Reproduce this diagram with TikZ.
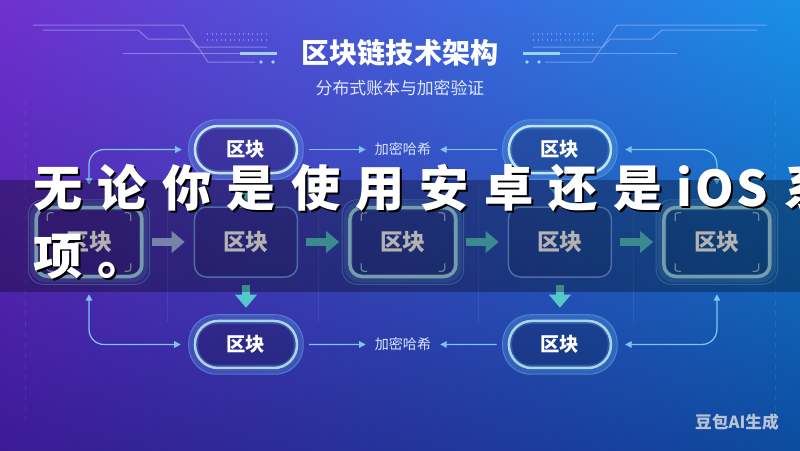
\documentclass[tikz,border=0pt]{standalone}
\usepackage{fontspec}
\setmainfont{Noto Sans CJK SC}
\newfontfamily\brush[LetterSpace=31]{Noto Sans CJK SC}
\newfontfamily\brushlatin[LetterSpace=6]{Noto Sans CJK SC}
\usetikzlibrary{positioning,calc,arrows.meta,shadings}
\definecolor{bgtl}{HTML}{7030D0}
\definecolor{bgtr}{HTML}{1890E8}
\definecolor{bgbl}{HTML}{3C1A96}
\definecolor{bgbr}{HTML}{0C4C9E}
\definecolor{edgelight}{HTML}{BCEEF6}
\definecolor{edgeblue}{HTML}{6E9CEC}
\definecolor{pilledge}{HTML}{DDF4FF}
\definecolor{pillgray}{HTML}{BFE0E4}
\definecolor{haloblue}{HTML}{6AB8F0}
\definecolor{linkblue}{HTML}{7CC6F2}
\definecolor{flowteal}{HTML}{55C8CC}
\definecolor{flowgray}{HTML}{AABEF0}
\definecolor{labeltext}{HTML}{D6E4FF}
\definecolor{subtext}{HTML}{E2E8FF}
\definecolor{markgray}{HTML}{B8C2D6}
\definecolor{tracecol}{HTML}{B4C0FF}
\definecolor{tracebright}{HTML}{9CD2FF}

\begin{document}
\begin{tikzpicture}[
		x=0.02cm, y=-0.02cm,
		node distance=1cm,
		>={Triangle[length=0.13cm,width=0.13cm]},
		bigbox/.style={draw=edgelight, line width=0.07cm, rounded corners=0.24cm, fill=black, fill opacity=0.12, text opacity=1, minimum width=2.12cm, minimum height=1.38cm, text=white, font=\fontsize{13pt}{15pt}\selectfont\bfseries},
		thinbox/.style={draw=edgeblue, line width=0.03cm, rounded corners=0.24cm, fill=black, fill opacity=0.1, text opacity=1, minimum width=2.06cm, minimum height=1.4cm, text=white, font=\fontsize{13pt}{15pt}\selectfont\bfseries},
		pill/.style={draw=pilledge, line width=0.05cm, rounded corners=0.46cm, fill=black, fill opacity=0.18, text opacity=1, minimum width=2.04cm, minimum height=0.94cm, text=white, font=\fontsize{11pt}{13pt}\selectfont\bfseries},
		lowpill/.style={pill, draw=pillgray},
		hashlbl/.style={text=labeltext, font=\fontsize{8pt}{10pt}\selectfont, inner sep=5pt},
		link/.style={draw=linkblue, line width=0.025cm},
		flow/.style={draw=flowteal, line width=0.16cm, -{Triangle[length=0.26cm,width=0.42cm]}, shorten <=0.16cm, shorten >=0.18cm},
		halo/.style={draw=haloblue, line width=0.02cm, draw opacity=0.55},
		glow/.style={draw=haloblue, line width=0.18cm, draw opacity=0.25},
		tick/.style={draw=edgelight, line width=0.025cm, rounded corners=0.05cm, draw opacity=0.7},
		trace/.style={draw=tracecol, line width=0.02cm, draw opacity=0.5},
		gridline/.style={draw=white, line width=0.02cm, draw opacity=0.08},
		caption/.style={anchor=west, inner sep=0, font=\brush\fontsize{28pt}{30pt}\selectfont\bfseries}
	]
		\useasboundingbox (0,0) rectangle (800,450);
		\clip (0,0) rectangle (800,450);
		\shade[upper left=bgtl, upper right=bgtr, lower left=bgbl, lower right=bgbr] (0,0) rectangle (800,450);

		\foreach \s/\o in {1/0,-1/800}{
			\draw[trace] ({\o+(\s)*33},25) -- ({\o+(\s)*183},25) -- ({\o+(\s)*208},62) -- ({\o+(\s)*255},62);
			\draw[trace] ({\o+(\s)*43},30) -- ({\o+(\s)*138},30) -- ({\o+(\s)*148},39) -- ({\o+(\s)*190},39) -- ({\o+(\s)*197},47) -- ({\o+(\s)*267},47);
			\draw[trace] ({\o+(\s)*123},53) -- ({\o+(\s)*240},53);
			\draw[tracebright, line width=0.06cm] ({\o+(\s)*240},53) -- ({\o+(\s)*277},53);
			\draw[trace, dotted, line width=0.04cm] ({\o+(\s)*207},34) -- ({\o+(\s)*270},34);
			\draw[trace, dotted, line width=0.04cm] ({\o+(\s)*207},40) -- ({\o+(\s)*270},40);
			\fill[tracebright] ({\o+(\s)*261},62) circle (1.8);
			\fill[tracebright] ({\o+(\s)*273},62) circle (1.8);
		}
		\foreach \gx in {167,318,478,633}
			\draw[gridline] (\gx,185) -- (\gx,322);
		\draw[gridline, dashed] (25,100) -- (25,420);
		\draw[gridline, dashed] (775,100) -- (775,420);

		\node[font=\fontsize{16pt}{18pt}\selectfont\bfseries, text=white] (title) at (400,53) {区块链技术架构};
		\node[font=\fontsize{9.6pt}{11pt}\selectfont, text=subtext] (subtitle) at (400,88) {分布式账本与加密验证};

		\node[bigbox] (mid1) at (89,242) {区块};
		\node[thinbox, right=of mid1] (mid2) {区块};
		\node[bigbox, right=of mid2] (mid3) {区块};
		\node[thinbox, right=of mid3] (mid4) {区块};
		\node[bigbox, right=of mid4] (mid5) {区块};
		\node[pill, above=0.64cm of mid2] (top1) {区块};
		\node[pill, above=0.64cm of mid4] (top2) {区块};
		\node[lowpill, below=0.84cm of mid2] (bot1) {区块};
		\node[lowpill, below=0.84cm of mid4] (bot2) {区块};
		\node[hashlbl] (hashtop) at ($(top1)!0.5!(top2)$) {加密哈希};
		\node[hashlbl] (hashbot) at ($(bot1)!0.5!(bot2)$) {加密哈希};

		\foreach \n in {mid1,mid3,mid5}{
			\draw[glow, rounded corners=0.24cm] (\n.south west) rectangle (\n.north east);
			\draw[halo, rounded corners=0.3cm] ($(\n.south west)+(-6,6)$) rectangle ($(\n.north east)+(6,-6)$);
			\foreach \a/\sx/\sy in {north west/1/1, north east/-1/1, south west/1/-1, south east/-1/-1}
				\draw[tick] ($(\n.\a)+({13*(\sx)},{15*(\sy)})$) |- ++({6*(\sx)},{-8*(\sy)});
		}
		\foreach \n in {top1,top2,bot1,bot2}{
			\draw[glow, rounded corners=0.46cm] (\n.south west) rectangle (\n.north east);
			\draw[halo, rounded corners=0.56cm] ($(\n.south west)+(-5,5)$) rectangle ($(\n.north east)+(5,-5)$);
		}

		\draw[link, ->, shorten <=0.22cm] (top1) -- (hashtop);
		\draw[link, ->, shorten <=0.22cm] (top2) -- (hashtop);
		\draw[link, ->, shorten <=0.22cm] (bot1) -- (hashbot);
		\draw[link, ->, shorten <=0.22cm] (bot2) -- (hashbot);
		\draw[link, <->, rounded corners=0.3cm, shorten <=0.42cm, shorten >=0.24cm] (mid1.north) |- (top1.west);
		\draw[link, <->, rounded corners=0.3cm, shorten <=0.42cm, shorten >=0.26cm] (mid5.north) |- (top2.east);
		\draw[link, <->, rounded corners=0.3cm, shorten <=0.32cm, shorten >=0.26cm] (mid1.south) |- (bot1.west);
		\draw[link, <->, rounded corners=0.3cm, shorten <=0.32cm, shorten >=0.26cm] (mid5.south) |- (bot2.east);

		\draw[flow, draw=flowgray] (mid1) -- (mid2);
		\draw[flow] (mid2) -- (mid3);
		\draw[flow] (mid3) -- (mid4);
		\draw[flow] (mid4) -- (mid5);
		\draw[flow, shorten <=0.14cm, shorten >=0.12cm] (top1) -- (mid2);
		\draw[flow, shorten <=0.14cm, shorten >=0.12cm] (top2) -- (mid4);
		\draw[flow, shorten <=0.14cm, shorten >=0.24cm] (mid2) -- (bot1);
		\draw[flow, shorten <=0.14cm, shorten >=0.24cm] (mid4) -- (bot2);

		\fill[black, opacity=0.3] (0,180) rectangle (800,292);

		\node[caption, text=black] (lineshadeA) at (35,190) {无论你是使用安卓还是\hspace{8pt}{\brushlatin iOS}\hspace{9pt}系};
		\node[caption, text=white] (lineA) at (33,188) {无论你是使用安卓还是\hspace{8pt}{\brushlatin iOS}\hspace{9pt}系};
		\node[caption, text=black] (lineshadeB) at (35,259) {项。};
		\node[caption, text=white] (lineB) at (33,257) {项。};

		\node[font=\fontsize{9.5pt}{11pt}\selectfont\bfseries, text=markgray] (mark) at (737,422) {豆包AI生成};
	\end{tikzpicture}
\end{document}
